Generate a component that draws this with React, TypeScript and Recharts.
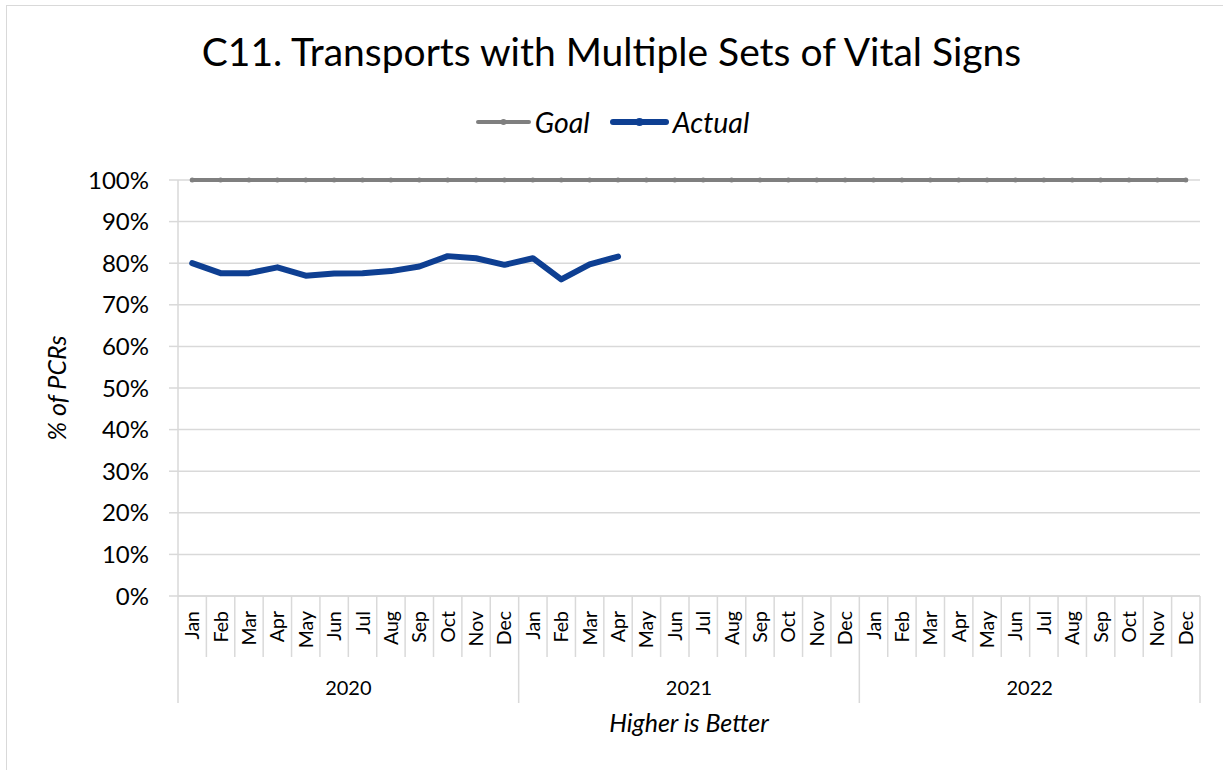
import React from "react";
import {
  LineChart,
  Line,
  XAxis,
  YAxis,
  CartesianGrid,
  Legend,
} from "recharts";

const W = 1223;
const H = 770;
const PLOT_LEFT = 178;
const PLOT_RIGHT = 1200;
const PLOT_TOP = 180;
const PLOT_BOTTOM = 596;
const FONT = "Lato, 'Open Sans', sans-serif";

const monthNames = ["Jan", "Feb", "Mar", "Apr", "May", "Jun", "Jul", "Aug", "Sep", "Oct", "Nov", "Dec"];
const years = ["2020", "2021", "2022"];
const goalValue = 1.0;
// Jan 2020 .. Apr 2021
const actualValues = [
  0.8, 0.776, 0.776, 0.79, 0.77, 0.775, 0.776, 0.781, 0.792, 0.817, 0.812, 0.796,
  0.812, 0.761, 0.797, 0.816,
];
const yTicks = [0, 0.1, 0.2, 0.3, 0.4, 0.5, 0.6, 0.7, 0.8, 0.9, 1.0];

const data = years.flatMap((year, yi) =>
  monthNames.map((month, mi) => {
    const i = yi * 12 + mi;
    return {
      month,
      year,
      goal: goalValue,
      actual: i < actualValues.length ? actualValues[i] : null,
    };
  })
);

const BAND = (PLOT_RIGHT - PLOT_LEFT) / data.length;
const GRID = "#d9d9d9";

function MonthTick(props: any) {
  const { x, y, payload, index } = props;
  const i = payload?.index ?? index;
  const left = x - BAND / 2;
  const isYearStart = i % 12 === 0;
  const isLast = i === data.length - 1;
  return (
    <g>
      <line x1={left} x2={left} y1={y} y2={y + (isYearStart ? 107 : 61)} stroke={GRID} strokeWidth={1.5} />
      {isLast && (
        <line x1={x + BAND / 2} x2={x + BAND / 2} y1={y} y2={y + 107} stroke={GRID} strokeWidth={1.5} />
      )}
      <text
        x={x + 7}
        y={y + 15}
        transform={`rotate(-90 ${x + 7} ${y + 15})`}
        textAnchor="end"
        fontSize={19.5}
        fontFamily={FONT}
        fill="#000"
      >
        {payload.value}
      </text>
      {i % 12 === 6 && (
        <text x={left} y={y + 99} textAnchor="middle" fontSize={20} fontFamily={FONT} fill="#000">
          {data[i].year}
        </text>
      )}
    </g>
  );
}

function LegendContent() {
  const item = (label: string, color: string, width: number, thick: number) => (
    <div style={{ display: "flex", alignItems: "center", marginRight: 20 }}>
      <svg width={width} height={12} style={{ marginRight: 4 }}>
        <line x1={thick / 2} x2={width - thick / 2} y1={6} y2={6} stroke={color} strokeWidth={thick} strokeLinecap="round" />
        <circle cx={width / 2} cy={6} r={thick / 2 + 1} fill={color} />
      </svg>
      <span style={{ fontStyle: "italic", fontSize: 28.5, lineHeight: "32px", color: "#000" }}>{label}</span>
    </div>
  );
  return (
    <div style={{ display: "flex", justifyContent: "center", paddingLeft: 22, fontFamily: FONT }}>
      {item("Goal", "#7f7f7f", 55, 4)}
      {item("Actual", "#0e3f92", 59, 6)}
    </div>
  );
}

export default function App() {
  return (
    <div
      style={{
        position: "absolute",
        left: 0,
        top: 0,
        width: W,
        height: H,
        overflow: "hidden",
        background: "#fff",
        fontFamily: FONT,
      }}
    >
      <div
        style={{
          position: "absolute",
          left: 6,
          top: 5,
          width: W + 20,
          height: H + 20,
          border: "1.5px solid #d9d9d9",
        }}
      />
      <div
        style={{
          position: "absolute",
          left: 0,
          top: 28,
          width: W,
          textAlign: "center",
          fontSize: 39,
          lineHeight: 1.2,
          color: "#000",
        }}
      >
        C11. Transports with Multiple Sets of Vital Signs
      </div>
      <div style={{ position: "absolute", left: 0, top: 0 }}>
        <LineChart
          width={W}
          height={H}
          data={data}
          margin={{ top: PLOT_TOP, right: W - PLOT_RIGHT, bottom: 0, left: 0 }}
        >
          <CartesianGrid horizontal vertical={false} stroke={GRID} strokeWidth={1.5} />
          <XAxis
            dataKey="month"
            interval={0}
            height={H - PLOT_BOTTOM}
            padding={{ left: BAND / 2, right: BAND / 2 }}
            axisLine={{ stroke: GRID, strokeWidth: 1.5 }}
            tickLine={false}
            tickSize={0}
            tickMargin={0}
            tick={<MonthTick />}
            label={{
              value: "Higher is Better",
              position: "insideBottom",
              offset: 38,
              fontStyle: "italic",
              fontSize: 25,
              fill: "#000",
              fontFamily: FONT,
            }}
          />
          <YAxis
            width={PLOT_LEFT}
            domain={[0, 1]}
            ticks={yTicks}
            interval={0}
            tickFormatter={(v: number) => `${Math.round(v * 100)}%`}
            axisLine={{ stroke: GRID, strokeWidth: 1.5 }}
            tickLine={{ stroke: GRID, strokeWidth: 1.5 }}
            tickSize={9}
            tickMargin={20}
            tick={{ fontSize: 24, fill: "#000", fontFamily: FONT }}
            label={{
              value: "% of PCRs",
              angle: -90,
              position: "center",
              dx: -32,
              fontStyle: "italic",
              fontSize: 25,
              fill: "#000",
              fontFamily: FONT,
            }}
          />
          <Legend
            verticalAlign="middle"
            align="center"
            layout="horizontal"
            content={<LegendContent />}
            wrapperStyle={{ position: "absolute", top: 106, left: 0, width: W }}
          />
          <Line
            dataKey="goal"
            name="Goal"
            stroke="#7f7f7f"
            strokeWidth={4}
            dot={{ r: 2.5, fill: "#7f7f7f", stroke: "#7f7f7f", strokeWidth: 0 }}
            isAnimationActive={false}
          />
          <Line
            dataKey="actual"
            name="Actual"
            stroke="#0e3f92"
            strokeWidth={6}
            strokeLinejoin="round"
            strokeLinecap="round"
            dot={false}
            isAnimationActive={false}
          />
        </LineChart>
      </div>
    </div>
  );
}
